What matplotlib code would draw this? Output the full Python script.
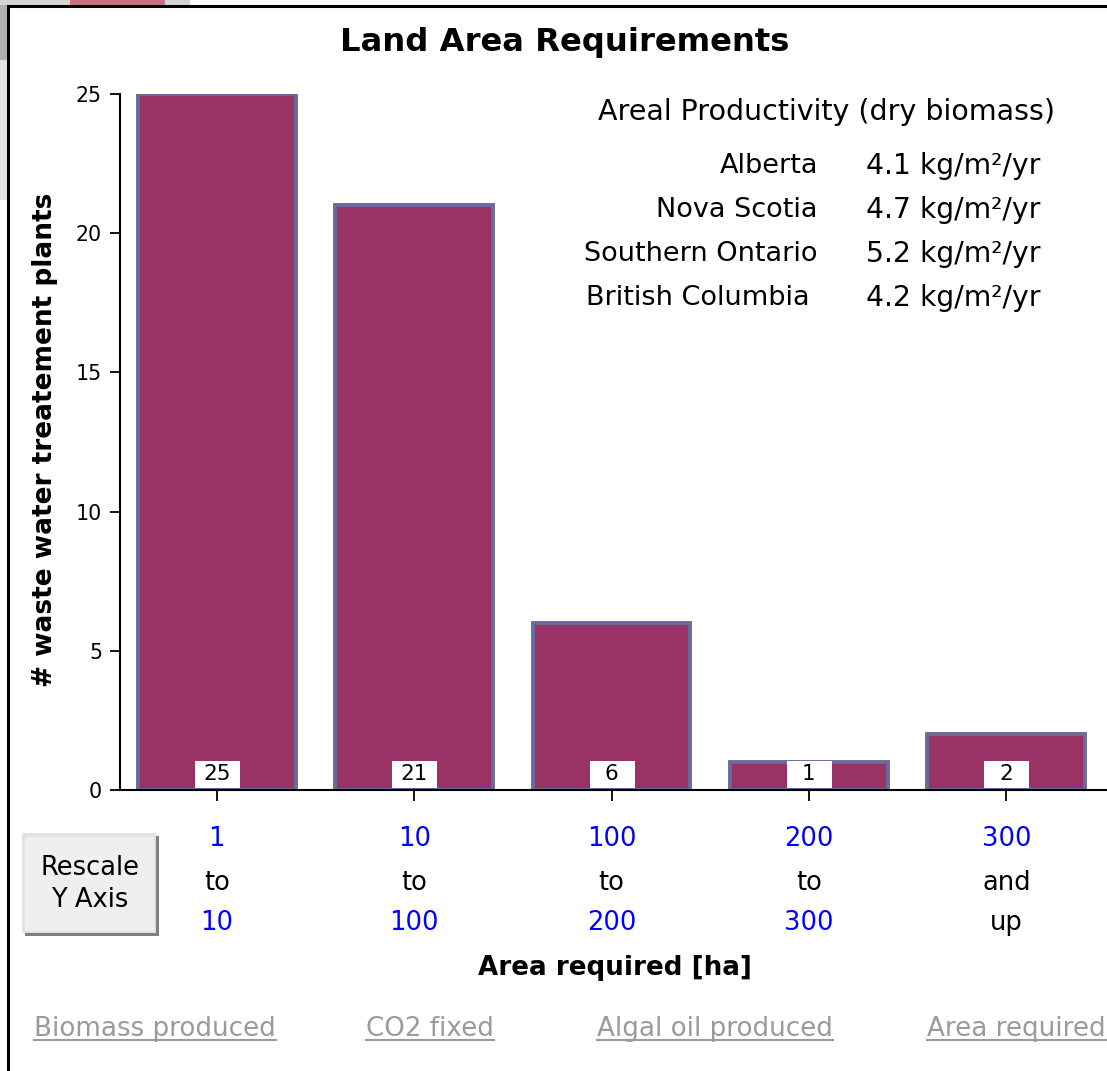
import matplotlib
matplotlib.use("Agg")
import matplotlib.pyplot as plt
import matplotlib.transforms as mtransforms
from matplotlib.patches import Rectangle
from matplotlib.lines import Line2D

# ---------------- data ----------------
range_low = ["1", "10", "100", "200", "300"]
range_mid = ["to", "to", "to", "to", "and"]
range_high = ["10", "100", "200", "300", "up"]
plant_counts = [25, 21, 6, 1, 2]

provinces = ["Alberta", "Nova Scotia", "Southern Ontario", "British Columbia"]
productivity = ["4.1 kg/m²/yr", "4.7 kg/m²/yr", "5.2 kg/m²/yr", "4.2 kg/m²/yr"]

y_ticks = [0, 5, 10, 15, 20, 25]
links = ["Biomass produced", "CO2 fixed", "Algal oil produced", "Area required"]

title = "Land Area Requirements"
ylabel = "# waste water treatement plants"
xlabel = "Area required [ha]"
panel_title = "Areal Productivity (dry biomass)"

# ---------------- styling ----------------
W, H = 1107, 1071
plt.rcParams["font.family"] = ["DejaVu Sans"]
fig = plt.figure(figsize=(W / 100, H / 100), dpi=100)
fig.patch.set_facecolor("white")


def fx(x):
    return x / W


def fy(y):
    return 1 - y / H


BAR_FILL = "#993366"
BAR_EDGE = "#6a6a9c"
BLUE = "#0000ff"

# background fragments in the top-left corner
fig.patches.append(Rectangle((0, fy(60)), fx(7), 60 / H, transform=fig.transFigure,
                             facecolor="#b0b0b0", edgecolor="none", zorder=0))
fig.patches.append(Rectangle((0, fy(200)), fx(7), 140 / H, transform=fig.transFigure,
                             facecolor="#e4e4e4", edgecolor="none", zorder=0))
fig.patches.append(Rectangle((0, fy(5)), fx(190), 5 / H, transform=fig.transFigure,
                             facecolor="#d4d4d4", edgecolor="none", zorder=0))
fig.patches.append(Rectangle((fx(70), fy(5)), fx(95), 5 / H, transform=fig.transFigure,
                             facecolor="#c87080", edgecolor="none", zorder=0))

# frame border
fig.add_artist(Line2D([fx(8), fx(8)], [fy(6), 0], transform=fig.transFigure,
                      color="black", lw=2.2))
fig.add_artist(Line2D([fx(8), 1], [fy(6), fy(6)], transform=fig.transFigure,
                      color="black", lw=2.2))

# ---------------- axes ----------------
ax = fig.add_axes([fx(120), fy(790), 1 - fx(120), (790 - 94) / H])
x = list(range(len(plant_counts)))
ax.bar(x, plant_counts, width=0.80, color=BAR_FILL, edgecolor=BAR_EDGE,
       linewidth=2.8, zorder=2)
ax.set_xlim(-0.49, 4.51)
ax.set_ylim(0, 25)
for s in ["top", "right"]:
    ax.spines[s].set_visible(False)
ax.spines["left"].set_linewidth(1.5)
ax.spines["bottom"].set_linewidth(1.5)
ax.spines["bottom"].set_zorder(3)
ax.set_yticks(y_ticks)
ax.set_yticklabels([str(t) for t in y_ticks], fontsize=14.8)
ax.tick_params(axis="y", length=7, width=1.3, pad=6)
ax.set_xticks(x)
ax.set_xticklabels([])
ax.tick_params(axis="x", length=8, width=1.3)

# value boxes at the bottom of bars
for xi, v in zip(x, plant_counts):
    tr = mtransforms.ScaledTranslation(xi, 0, ax.transData)
    base = mtransforms.IdentityTransform() + tr
    ax.add_patch(Rectangle((-22, 2), 45, 27, transform=base, facecolor="white",
                           edgecolor="none", zorder=4, clip_on=False))
    ax.annotate(str(v), xy=(xi, 0), xycoords="data", xytext=(0, 11.5),
                textcoords="offset points", ha="center", va="center",
                fontsize=15.5, color="black", zorder=5)

# multi-line tick labels
for xi, lo, mid, hi in zip(x, range_low, range_mid, range_high):
    ax.annotate(lo, xy=(xi, 0), xytext=(0, -35), textcoords="offset points",
                ha="center", va="center", fontsize=18.5, color=BLUE, annotation_clip=False)
    ax.annotate(mid, xy=(xi, 0), xytext=(0, -67), textcoords="offset points",
                ha="center", va="center", fontsize=18.5, color="black", annotation_clip=False)
    ax.annotate(hi, xy=(xi, 0), xytext=(0, -96), textcoords="offset points",
                ha="center", va="center", fontsize=18.5,
                color=(BLUE if hi != "up" else "black"), annotation_clip=False)

# titles
fig.text(fx(565), fy(43), title, ha="center", va="center", fontsize=23.2, fontweight="bold")
fig.text(fx(45), fy(440), ylabel, ha="center", va="center", rotation=90,
         fontsize=19, fontweight="bold")
fig.text(fx(615), fy(968), xlabel, ha="center", va="center", fontsize=18.8, fontweight="bold")

# productivity panel
fig.text(fx(826), fy(112), panel_title, ha="center", va="center", fontsize=20.5)
row_y = [166, 210, 254, 298]
for name, val, yy in zip(provinces, productivity, row_y):
    if name == "British Columbia":
        fig.text(fx(698), fy(yy), name, ha="center", va="center", fontsize=19.5)
    else:
        fig.text(fx(818), fy(yy), name, ha="right", va="center", fontsize=19.5)
    fig.text(fx(866), fy(yy), val, ha="left", va="center", fontsize=20.3)

# Rescale button
fig.patches.append(Rectangle((fx(25), fy(936)), fx(134), 100 / H, transform=fig.transFigure,
                             facecolor="#808080", edgecolor="none"))
fig.patches.append(Rectangle((fx(22), fy(933)), fx(134), 100 / H, transform=fig.transFigure,
                             facecolor="#e2e2e2", edgecolor="none"))
fig.patches.append(Rectangle((fx(25), fy(931)), fx(129), 94 / H, transform=fig.transFigure,
                             facecolor="#efefef", edgecolor="none"))
fig.text(fx(90), fy(884), "Rescale\nY Axis", ha="center", va="center", fontsize=18.5,
         linespacing=1.3)

# bottom links (underlined)
link_x = [34, 366, 597, 927]
fig.canvas.draw()
renderer = fig.canvas.get_renderer()
for lab, lx in zip(links, link_x):
    t = fig.text(fx(lx), fy(1029), lab, ha="left", va="center", fontsize=18.8, color="#9a9a9a")
    bb = t.get_window_extent(renderer=renderer)
    yline = (bb.y0 + 2) / fig.bbox.height
    fig.add_artist(Line2D([bb.x0 / fig.bbox.width, bb.x1 / fig.bbox.width], [yline, yline],
                          transform=fig.transFigure, color="#9a9a9a", lw=1.5))

fig.savefig("out.png", dpi=100)
